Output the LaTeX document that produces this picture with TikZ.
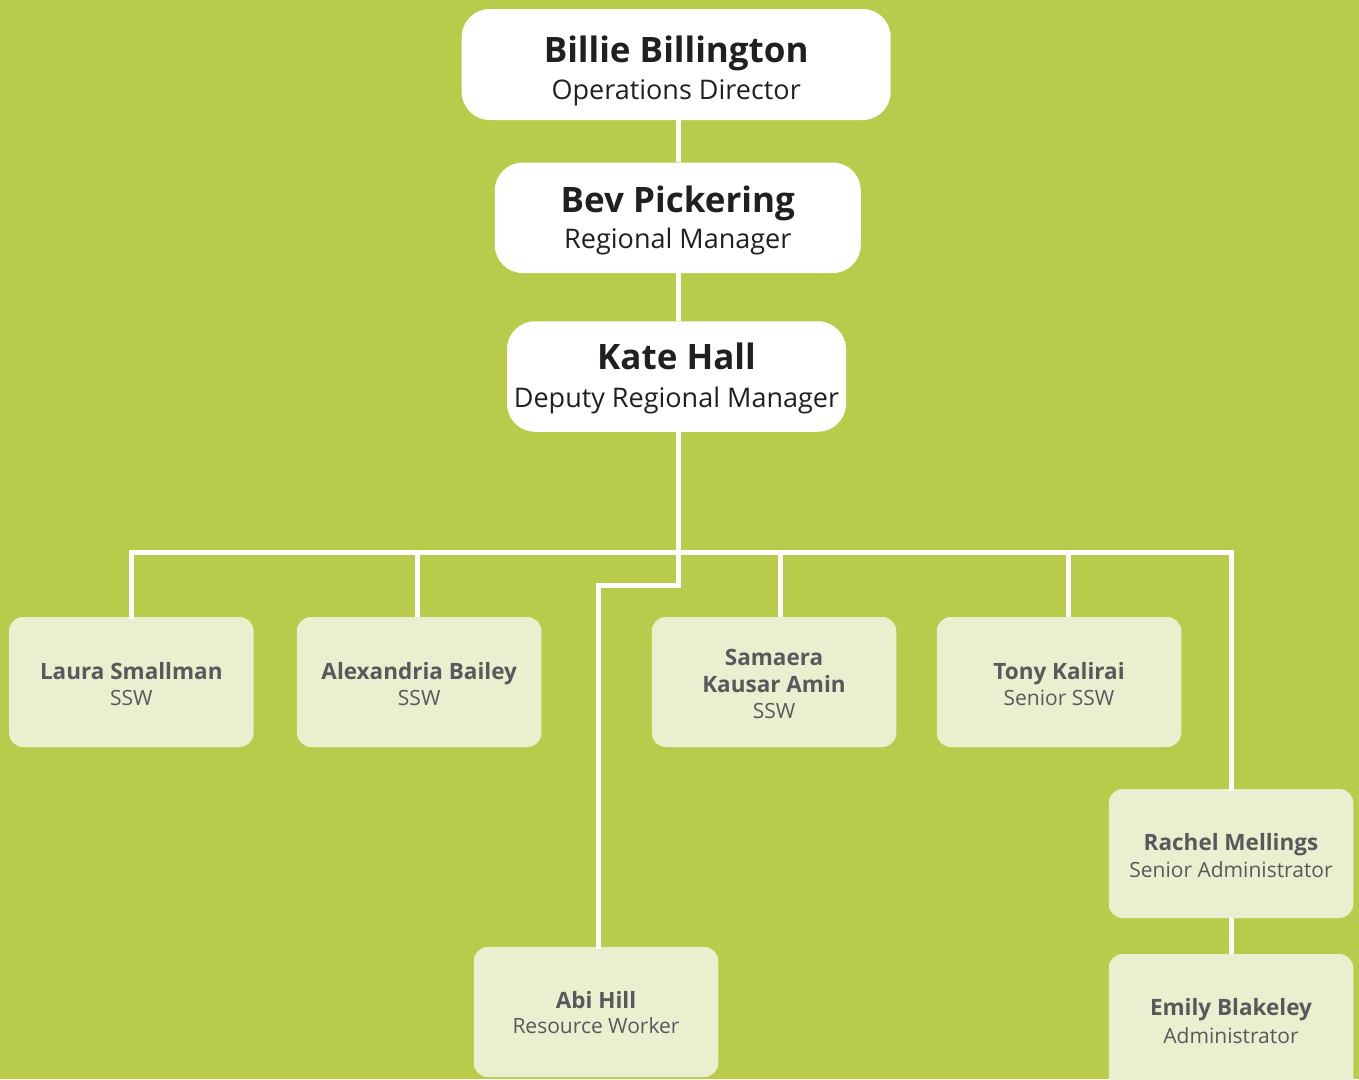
\documentclass[tikz,border=0pt]{standalone}
\usepackage{fontspec}
\setmainfont{Open Sans}
\definecolor{bgc}{HTML}{B9CB4B}
\definecolor{lightbox}{HTML}{EAEFD0}
\definecolor{darktxt}{HTML}{231F20}
\definecolor{graytxt}{HTML}{58595B}
\begin{document}
\begin{tikzpicture}[x=1pt,y=-1pt,
  bigbox/.style={draw=none,fill=white,rounded corners=28pt,inner sep=0pt},
  smallbox/.style={draw=none,fill=lightbox,rounded corners=14pt,inner sep=0pt,minimum width=244.5pt,minimum height=130pt},
  topname/.style={inner sep=0pt,anchor=base,text=darktxt,font=\fontsize{35}{40}\selectfont\bfseries},
  toprole/.style={inner sep=0pt,anchor=base,text=darktxt,font=\fontsize{27}{30}\selectfont},
  smname/.style={inner sep=0pt,anchor=base,text=graytxt,font=\fontsize{22.5}{26}\selectfont\bfseries},
  smrole/.style={inner sep=0pt,anchor=base,text=graytxt,font=\fontsize{21}{24}\selectfont},
  wire/.style={draw=white,line width=5pt}]
\useasboundingbox (0,0) rectangle (1359,1079);
\clip (0,0) rectangle (1359,1079);
\fill[bgc] (0,0) rectangle (1359,1079);
\coordinate (bus) at (678,552);
% boxes
\node[bigbox,minimum width=429pt,minimum height=111pt] (b1) at (676.2,64.5) {};
\node[bigbox,minimum width=366pt,minimum height=110.5pt] (b2) at (677.8,217.8) {};
\node[bigbox,minimum width=339pt,minimum height=110.5pt] (b3) at (676.5,376.5) {};
\node[smallbox] (laura) at (131.3,682) {};
\node[smallbox] (alex) at (419.2,682) {};
\node[smallbox] (sam) at (774,682) {};
\node[smallbox] (tony) at (1059,682) {};
\node[smallbox,minimum height=129pt] (rachel) at (1231,853.5) {};
\node[smallbox,minimum height=140pt] (emily) at (1231,1024) {};
\node[smallbox] (abi) at (596,1012) {};
% wires
\draw[wire] (b1.south -| bus) -- (b2.north -| bus);
\draw[wire] (b2.south -| bus) -- (b3.north -| bus);
\draw[wire] (b3.south -| bus) -- (bus);
\draw[wire,line cap=rect] (laura.north) -- (laura.north |- bus) -- (bus -| rachel.north) -- (rachel.north);
\draw[wire] ([xshift=-2pt]alex.north) -- ([xshift=-2pt]alex.north |- bus);
\draw[wire] ([xshift=6pt]sam.north) -- ([xshift=6pt]sam.north |- bus);
\draw[wire] ([xshift=9pt]tony.north) -- ([xshift=9pt]tony.north |- bus);
\draw[wire,line cap=rect] (bus) -- ++(0,33.5) -| ([xshift=2.5pt]abi.north);
\draw[wire] (rachel.south) -- (emily.north);
% texts
\node[topname] (b1n) at (676.2,62) {Billie Billington};
\node[toprole] (b1r) at (676.2,99) {Operations Director};
\node[topname] (b2n) at (677.8,212) {Bev Pickering};
\node[toprole] (b2r) at (677.8,248.5) {Regional Manager};
\node[topname] (b3n) at (676.5,369.5) {Kate Hall};
\node[toprole] (b3r) at (676.5,407) {Deputy Regional Manager};
\node[smname] (lauran) at (131.3,679) {Laura Smallman};
\node[smrole] (laurar) at (131.3,705) {SSW};
\node[smname] (alexn) at (419.2,679) {Alexandria Bailey};
\node[smrole] (alexr) at (419.2,705) {SSW};
\node[smname] (samn1) at (774,665) {Samaera};
\node[smname] (samn2) at (774,692) {Kausar Amin};
\node[smrole] (samr) at (774,718) {SSW};
\node[smname] (tonyn) at (1059,679) {Tony Kalirai};
\node[smrole] (tonyr) at (1059,705) {Senior SSW};
\node[smname] (racheln) at (1231,850) {Rachel Mellings};
\node[smrole] (rachelr) at (1231,877) {Senior Administrator};
\node[smname] (emilyn) at (1231,1015) {Emily Blakeley};
\node[smrole] (emilyr) at (1231,1043) {Administrator};
\node[smname] (abin) at (596,1008) {Abi Hill};
\node[smrole] (abir) at (596,1033) {Resource Worker};
\end{tikzpicture}
\end{document}
